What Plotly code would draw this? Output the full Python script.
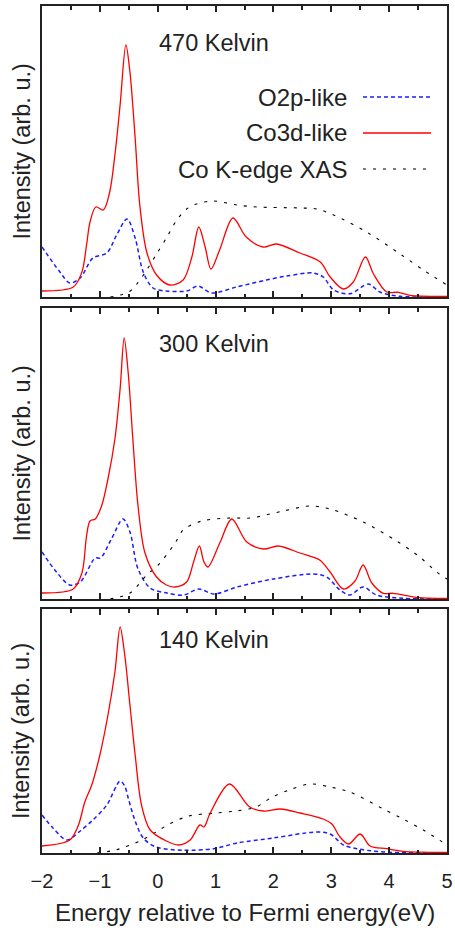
import plotly.graph_objects as go

W, H = 455, 928

# ---- 470 K ----
e_o2p_470 = [-2.0, -1.69, -1.52, -1.34, -1.12, -0.88, -0.71, -0.53, -0.39, -0.25, -0.08, 0.15, 0.50,
             0.70, 0.93, 1.36, 1.88, 2.23, 2.69, 2.86, 3.04, 3.33, 3.64, 3.84, 4.19, 5.0]
i_o2p_470 = [50, 25, 14, 19, 39, 44, 62, 78, 59, 25, 9, 6, 6,
             11, 4, 10, 17, 21, 24, 20, 7, 3.3, 13, 5, 0.7, 0.2]

e_co3d_470 = [-2.0, -1.46, -1.31, -1.23, -1.17, -1.07, -0.94, -0.83, -0.74, -0.65, -0.55, -0.48, -0.39,
              -0.31, -0.19, -0.02, 0.21, 0.44, 0.59, 0.71, 0.82, 0.92, 1.07, 1.30, 1.53, 1.82, 2.05,
              2.46, 2.81, 2.98, 3.21, 3.38, 3.59, 3.73, 3.96, 4.16, 4.36, 5.0]
i_co3d_470 = [6, 10, 25, 52, 75, 90, 87, 105, 142, 192, 252, 225, 159,
              92, 45, 22, 12, 17, 40, 70, 50, 28, 47, 79, 60, 50, 53,
              44, 35, 20, 8, 15, 40, 23, 5, 4.7, 1.7, 0.7]

e_xas_470 = [-0.82, -0.5, -0.36, -0.19, -0.02, 0.16, 0.33, 0.50, 0.67, 0.95, 1.37, 1.71, 2.46,
             2.75, 3.04, 3.61, 4.19, 4.59, 5.0]
i_xas_470 = [0, 5, 13, 27, 43, 60, 77, 88, 93, 96, 92, 90, 89,
             88, 82, 65, 43, 27, 12]

# ---- 300 K ----
e_o2p_300 = [-2.0, -1.75, -1.52, -1.34, -1.08, -0.99, -0.80, -0.60, -0.48, -0.34, -0.13, 0.16, 0.45,
             0.71, 0.97, 1.37, 2.0, 2.69, 2.92, 3.15, 3.32, 3.55, 3.78, 4.24, 5.0]
i_o2p_300 = [47, 27, 14, 17, 41, 41, 60, 80, 67, 30, 11, 6, 4,
             10, 5, 12, 20, 25, 22, 9, 4, 12, 4, 0.7, 0.2]

e_co3d_300 = [-2.0, -1.46, -1.31, -1.23, -1.17, -1.08, -0.97, -0.86, -0.74, -0.65, -0.58, -0.51, -0.43,
              -0.34, -0.22, -0.02, 0.15, 0.30, 0.50, 0.62, 0.72, 0.80, 0.87, 1.08, 1.28, 1.54, 1.83,
              2.08, 2.46, 2.80, 2.98, 3.21, 3.41, 3.55, 3.70, 3.90, 4.07, 4.48, 5.0]
i_co3d_300 = [6, 10, 26, 63, 78, 80, 93, 120, 160, 210, 261, 226, 160,
              93, 46, 22, 14, 12, 17, 37, 53, 37, 32, 57, 80, 57, 50,
              53, 46, 39, 27, 10, 18, 34, 16, 5.7, 5.7, 1.7, 0.7]

e_xas_300 = [-0.82, -0.48, -0.19, 0.01, 0.30, 0.44, 0.76, 1.25, 1.60, 2.17, 2.63, 2.98, 3.55,
             4.13, 4.53, 4.82, 5.0]
i_xas_300 = [0, 6, 24, 34, 56, 69, 78, 81, 81, 88, 93, 90, 77,
             58, 42, 27, 20]

# ---- 140 K ----
e_o2p_140 = [-2.0, -1.81, -1.57, -1.34, -1.12, -0.88, -0.65, -0.57, -0.51, -0.39, -0.25, -0.03, 0.45,
             0.97, 1.37, 2.0, 2.75, 2.98, 3.21, 3.44, 3.90, 5.0]
i_o2p_140 = [38, 25, 13, 22, 33, 48, 72, 67, 55, 32, 15, 6, 2.7,
             4.3, 10, 15, 21, 19, 8, 4.3, 1, 0.2]

e_co3d_140 = [-2.0, -1.52, -1.37, -1.26, -1.14, -1.0, -0.86, -0.74, -0.65, -0.57, -0.48, -0.39, -0.28,
              -0.13, 0.15, 0.36, 0.56, 0.73, 0.80, 0.90, 1.24, 1.59, 1.83, 2.12, 2.46, 2.86, 3.01,
              3.15, 3.30, 3.50, 3.67, 3.96, 4.24, 5.0]
i_co3d_140 = [7, 13, 28, 51, 68, 98, 138, 181, 226, 198, 148, 98, 48,
              23, 12, 8, 13, 28, 26, 39, 69, 46, 42, 44, 40, 34, 29,
              16, 9, 19, 7, 4.3, 1.7, 0.7]

e_xas_140 = [-1.05, -0.71, -0.31, -0.03, 0.20, 0.54, 1.0, 1.35, 1.70, 1.98, 2.27, 2.63, 2.98,
             3.32, 3.90, 4.24, 4.59, 5.0]
i_xas_140 = [0, 3.3, 12, 21, 29, 37, 40, 42, 46, 56, 63, 69, 66,
             61, 44, 34, 23, 8]

temps = ["470 Kelvin", "300 Kelvin", "140 Kelvin"]
y_max = [291, 291, 244]
series = [
    (e_o2p_470, i_o2p_470, e_co3d_470, i_co3d_470, e_xas_470, i_xas_470),
    (e_o2p_300, i_o2p_300, e_co3d_300, i_co3d_300, e_xas_300, i_xas_300),
    (e_o2p_140, i_o2p_140, e_co3d_140, i_co3d_140, e_xas_140, i_xas_140),
]
legend_names = ["O2p-like", "Co3d-like", "Co K-edge XAS"]

# panel edges in pixels (top, bottom)
panel_px = [(6, 297), (308, 599), (609, 853)]
x_left, x_right = 42, 447

FONT = "Liberation Sans, Arial, sans-serif"
TXT = "#222222"
BLUE = "#1c1cff"
RED = "#ff0000"
BLACK = "#000000"
FS = 23.5


def fx(px):
    return px / W


def fy(py):
    return 1 - py / H


fig = go.Figure()

for k, (eo, io, ec, ic, ex, ix) in enumerate(series):
    xa = "x" if k == 0 else f"x{k + 1}"
    ya = "y" if k == 0 else f"y{k + 1}"
    fig.add_scatter(x=eo, y=io, xaxis=xa, yaxis=ya, mode="lines", name=legend_names[0],
                    line=dict(color=BLUE, width=1.5, dash="4px,3px", shape="spline", smoothing=0.9),
                    showlegend=False)
    fig.add_scatter(x=ex, y=ix, xaxis=xa, yaxis=ya, mode="lines", name=legend_names[2],
                    line=dict(color=BLACK, width=1.1, dash="3px,7px", shape="spline", smoothing=0.9),
                    showlegend=False)
    fig.add_scatter(x=ec, y=ic, xaxis=xa, yaxis=ya, mode="lines", name=legend_names[1],
                    line=dict(color=RED, width=1.3, shape="spline", smoothing=0.9),
                    showlegend=False)

layout = dict(
    template="none",
    width=W,
    height=H,
    margin=dict(l=0, r=0, t=0, b=0, pad=0, autoexpand=False),
    paper_bgcolor="white",
    plot_bgcolor="white",
    font=dict(family=FONT, size=FS, color=TXT),
    showlegend=False,
)

for k in range(3):
    top, bot = panel_px[k]
    sx = "" if k == 0 else str(k + 1)
    layout["xaxis" + sx] = dict(
        domain=[fx(x_left), fx(x_right)],
        anchor="y" + sx,
        range=[-2, 5],
        dtick=1,
        tick0=0,
        ticks="inside",
        ticklen=6,
        tickwidth=1.5,
        tickcolor=TXT,
        minor=dict(ticks="inside", dtick=0.5, ticklen=3.5, tickwidth=1.5, tickcolor=TXT),
        showline=True,
        linecolor=TXT,
        linewidth=2,
        mirror="ticks",
        showgrid=False,
        zeroline=False,
        automargin=False,
        showticklabels=(k == 2),
        tickfont=dict(size=20, color=TXT),
        ticklabelstandoff=9,
    )
    layout["yaxis" + sx] = dict(
        domain=[fy(bot), fy(top)],
        anchor="x" + sx,
        range=[0, y_max[k]],
        showline=True,
        linecolor=TXT,
        linewidth=2,
        mirror=True,
        ticks="",
        showticklabels=False,
        showgrid=False,
        zeroline=False,
        automargin=False,
    )

fig.update_layout(**layout)

annotations = []
for k in range(3):
    top, bot = panel_px[k]
    annotations.append(dict(
        text="Intensity (arb. u.)", xref="paper", yref="paper",
        x=fx(21), y=fy((top + bot) / 2), xanchor="center", yanchor="middle",
        textangle=-90, showarrow=False, font=dict(size=FS, color=TXT),
    ))

for t, yc in zip(temps, [43, 344, 640]):
    annotations.append(dict(
        text=t, xref="paper", yref="paper", x=fx(157), y=fy(yc),
        xanchor="left", yanchor="middle", showarrow=False, font=dict(size=FS, color=TXT),
    ))

annotations.append(dict(
    text="Energy relative to Fermi energy(eV)", xref="paper", yref="paper",
    x=fx(244.5), y=fy(912), xanchor="center", yanchor="middle", showarrow=False,
    font=dict(size=24, color=TXT),
))

# legend drawn by hand: label on the left, line sample on the right
leg_y = [97, 133, 169]
leg_style = [dict(color=BLUE, width=1.5, dash="4px,3px"),
             dict(color=RED, width=1.3),
             dict(color=BLACK, width=1.1, dash="3px,7px")]
shapes = []
for name, yy, st in zip(legend_names, leg_y, leg_style):
    annotations.append(dict(
        text=name, xref="paper", yref="paper", x=fx(349), y=fy(yy),
        xanchor="right", yanchor="middle", showarrow=False, font=dict(size=24, color=TXT),
    ))
    shapes.append(dict(type="line", xref="paper", yref="paper",
                       x0=fx(363), x1=fx(431), y0=fy(yy), y1=fy(yy), line=st))

fig.update_layout(annotations=annotations, shapes=shapes)

fig.write_html("out.html", config={"displayModeBar": False},
               post_script="document.body.style.margin='0';document.body.style.overflow='hidden';")
